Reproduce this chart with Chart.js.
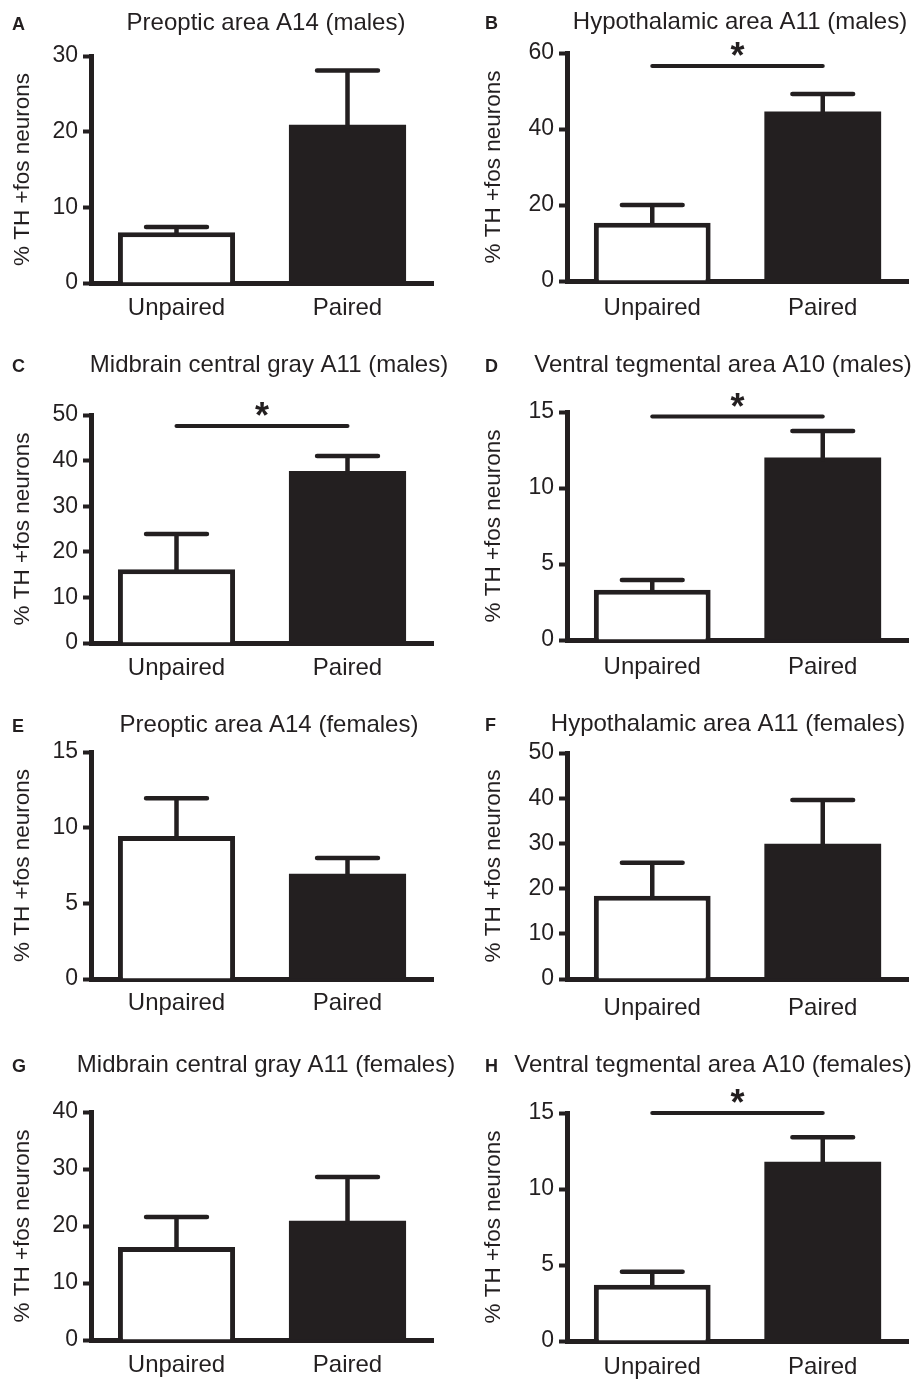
<!DOCTYPE html>
<html>
<head>
<meta charset="utf-8">
<script src="https://cdn.jsdelivr.net/npm/chart.js@4/dist/chart.umd.min.js"></script>
<style>
  html, body { margin: 0; padding: 0; background: #fff; }
  #figure { position: relative; width: 914px; height: 1379px; overflow: hidden; }
  #figure canvas { position: absolute; }
</style>
</head>
<body>
<div id="figure"></div>
<script>
// data (upper SEM only is drawn)
const panelLetters = ['A', 'B', 'C', 'D', 'E', 'F', 'G', 'H'];
const panelTitles = [
    'Preoptic area A14 (males)',
    'Hypothalamic area A11 (males)',
    'Midbrain central gray A11 (males)',
    'Ventral tegmental area A10 (males)',
    'Preoptic area A14 (females)',
    'Hypothalamic area A11 (females)',
    'Midbrain central gray A11 (females)',
    'Ventral tegmental area A10 (females)'
];
const groups = ['Unpaired', 'Paired'];
const means = [[6.7, 20.9], [15.3, 44.6], [16.2, 37.7], [3.3, 12.0], [9.45, 6.95], [18.4, 29.9], [16.3, 20.9], [3.7, 11.8]];
const sems = [[0.7, 7.2], [4.7, 4.6], [7.7, 3.3], [0.65, 1.75], [2.5, 1.05], [7.3, 9.7], [5.3, 7.7], [0.85, 1.6]];
const yMax = [30, 60, 50, 15, 15, 50, 40, 15];
const yStep = [10, 20, 10, 5, 5, 10, 10, 5];
const sigLevel = [null, 56.6, 47.6, 14.7, null, null, null, 15.0];
const yLabel = '% TH +fos neurons';

// page layout (pixels in the 914x1379 figure)
const columns = [
    { left: 0, axisLeft: 91, axisRight: 433, labelX: 23, letterX: 12 },
    { left: 457, axisLeft: 567, axisRight: 908, labelX: 494, letterX: 485 }
];
const layout = [
    { col: 0, titleX: 266, titleY: 23, top: 56, zero: 283, gap: 23 },
    { col: 1, titleX: 740, titleY: 22, top: 53, zero: 281, gap: 25.5 },
    { col: 0, titleX: 269, titleY: 365, top: 415, zero: 643, gap: 23.5 },
    { col: 1, titleX: 723, titleY: 365, top: 412, zero: 640, gap: 25 },
    { col: 0, titleX: 269, titleY: 725, top: 752, zero: 979, gap: 22.5 },
    { col: 1, titleX: 728, titleY: 724, top: 753, zero: 979, gap: 27.5 },
    { col: 0, titleX: 266, titleY: 1065, top: 1112, zero: 1340, gap: 23.5 },
    { col: 1, titleX: 713, titleY: 1065, top: 1113, zero: 1341, gap: 24 }
];

const ink = '#231f20';
const family = '"Liberation Sans", Arial, Helvetica, sans-serif';
const barFills = ['#ffffff', ink];
const barBorders = [5, 0];
const PANEL_W = 457;
const TITLE_ROOM = 25;
const XAXIS_H = 50;

Chart.defaults.font.family = family;
Chart.defaults.color = ink;

const errorBars = {
    id: 'errorBars',
    afterDatasetsDraw(chart, args, opts) {
        const meta = chart.getDatasetMeta(0);
        const y = chart.scales.y;
        const ctx = chart.ctx;
        ctx.save();
        ctx.strokeStyle = ink;
        ctx.lineWidth = 4.5;
        ctx.lineCap = 'round';
        meta.data.forEach((bar, i) => {
            const cap = y.getPixelForValue(opts.means[i] + opts.sems[i]);
            const half = bar.width * 0.26;
            ctx.beginPath();
            ctx.moveTo(bar.x, bar.y + 2);
            ctx.lineTo(bar.x, cap);
            ctx.moveTo(bar.x - half, cap);
            ctx.lineTo(bar.x + half, cap);
            ctx.stroke();
        });
        ctx.restore();
    }
};

const significance = {
    id: 'significance',
    afterDraw(chart, args, opts) {
        if (opts.level == null) { return; }
        const meta = chart.getDatasetMeta(0);
        const x1 = meta.data[0].x;
        const x2 = meta.data[1].x;
        const y = chart.scales.y.getPixelForValue(opts.level);
        const ctx = chart.ctx;
        ctx.save();
        ctx.strokeStyle = ink;
        ctx.lineWidth = 4;
        ctx.lineCap = 'round';
        ctx.beginPath();
        ctx.moveTo(x1, y);
        ctx.lineTo(x2, y);
        ctx.stroke();
        ctx.fillStyle = ink;
        ctx.font = 'bold 36px ' + family;
        ctx.textAlign = 'center';
        ctx.textBaseline = 'alphabetic';
        ctx.fillText('*', (x1 + x2) / 2, y + 2);
        ctx.restore();
    }
};

const panelText = {
    id: 'panelText',
    afterDraw(chart, args, opts) {
        const ctx = chart.ctx;
        ctx.save();
        ctx.fillStyle = ink;
        ctx.textBaseline = 'middle';
        ctx.textAlign = 'left';
        ctx.font = 'bold 18px ' + family;
        ctx.fillText(opts.letter, opts.letterX, TITLE_ROOM + 2);
        ctx.textAlign = 'center';
        ctx.font = '24px ' + family;
        ctx.fillText(opts.title, opts.titleX, TITLE_ROOM);
        ctx.restore();
    }
};

const figure = document.getElementById('figure');

layout.forEach((p, i) => {
    const col = columns[p.col];
    const canvasTop = p.titleY - TITLE_ROOM;
    const height = p.zero - canvasTop + XAXIS_H;
    const padLeft = col.labelX - col.left - 13.5;

    const canvas = document.createElement('canvas');
    canvas.width = PANEL_W;
    canvas.height = height;
    canvas.style.left = col.left + 'px';
    canvas.style.top = canvasTop + 'px';
    canvas.style.width = PANEL_W + 'px';
    canvas.style.height = height + 'px';
    figure.appendChild(canvas);

    new Chart(canvas, {
        type: 'bar',
        data: {
            labels: groups,
            datasets: [{
                data: means[i],
                backgroundColor: barFills,
                borderColor: ink,
                borderWidth: barBorders,
                borderSkipped: 'start',
                categoryPercentage: 1,
                barPercentage: 0.685
            }]
        },
        options: {
            responsive: false,
            animation: false,
            devicePixelRatio: 1,
            layout: {
                padding: {
                    left: padLeft,
                    right: PANEL_W - (col.axisRight - col.left),
                    top: p.top - canvasTop,
                    bottom: 0
                }
            },
            scales: {
                x: {
                    type: 'category',
                    offset: true,
                    grid: { display: false },
                    border: { display: true, width: 5, color: ink },
                    ticks: { font: { size: 24 }, color: ink, padding: p.gap - 20.5 },
                    afterFit: (s) => { s.height = XAXIS_H; }
                },
                y: {
                    min: 0,
                    max: yMax[i],
                    ticks: { stepSize: yStep[i], font: { size: 23 }, color: ink, padding: 5 },
                    grid: { drawOnChartArea: false, tickLength: 8, tickWidth: 4, tickColor: ink },
                    border: { display: true, width: 5, color: ink },
                    title: { display: true, text: yLabel, font: { size: 22.5 }, color: ink, padding: 0 },
                    afterFit: (s) => { s.width = col.axisLeft - col.left - padLeft; }
                }
            },
            plugins: {
                legend: { display: false },
                tooltip: { enabled: false },
                errorBars: { means: means[i], sems: sems[i] },
                significance: { level: sigLevel[i] },
                panelText: {
                    letter: panelLetters[i],
                    letterX: col.letterX - col.left,
                    title: panelTitles[i],
                    titleX: p.titleX - col.left
                }
            }
        },
        plugins: [errorBars, significance, panelText]
    });
});
</script>
</body>
</html>
